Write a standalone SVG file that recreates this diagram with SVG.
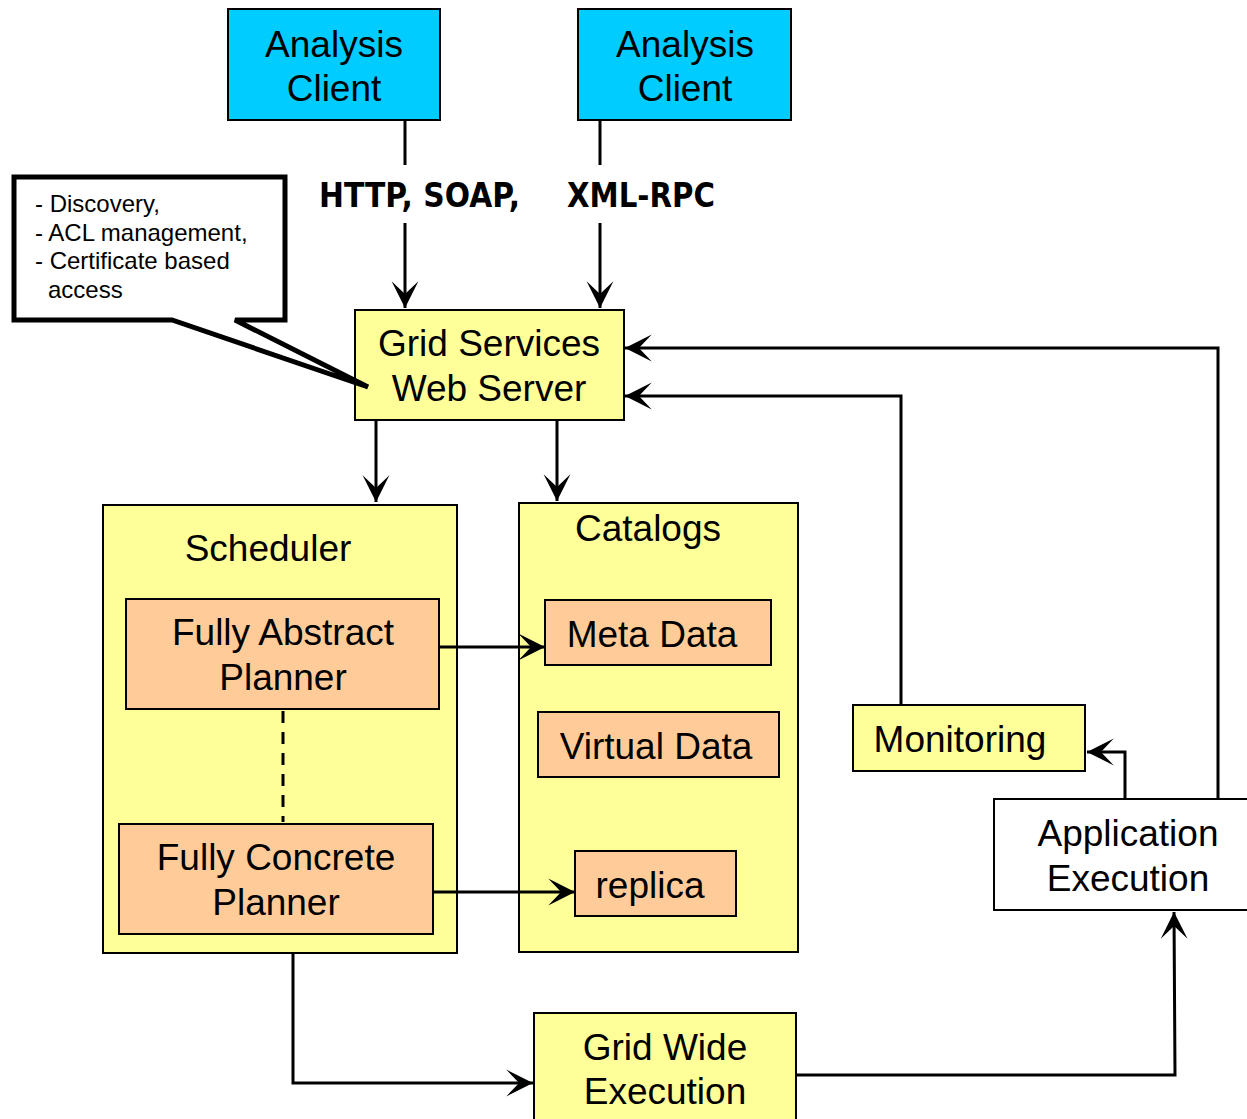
<svg xmlns="http://www.w3.org/2000/svg" width="1247" height="1119" viewBox="0 0 1247 1119">
  <style>
    .box { stroke: #000; stroke-width: 2; }
    .client { fill: #00CCFF; }
    .yellow { fill: #FFFF99; }
    .orange { fill: #FFCC99; }
    .white { fill: #FFFFFF; }
    .lbl { font-family: "Liberation Sans", Arial, sans-serif; font-size: 37px; fill: #000; text-anchor: middle; }
    .note { font-family: "Liberation Sans", Arial, sans-serif; font-size: 24px; fill: #000; }
    .proto { font-family: "DejaVu Sans", Verdana, sans-serif; font-weight: bold; font-size: 33px; fill: #000; }
    .conn { fill: none; stroke: #000; stroke-width: 3; }
  </style>
  <defs>
    <marker id="arrow" markerUnits="userSpaceOnUse" markerWidth="30" markerHeight="30" viewBox="-26 -14 28 28" refX="0" refY="0" orient="auto">
      <path d="M0,0 L-25,-12.5 L-13,0 L-25,12.5 Z" fill="#000"/>
    </marker>
  </defs>

  <rect width="1247" height="1119" fill="#FFFFFF"/>

  <!-- Clients -->
  <g id="client-1">
    <rect class="box client" x="228" y="9" width="212" height="111"/>
    <text class="lbl" x="334" y="57">Analysis</text>
    <text class="lbl" x="334" y="101">Client</text>
  </g>
  <g id="client-2">
    <rect class="box client" x="578" y="9" width="213" height="111"/>
    <text class="lbl" x="685" y="57">Analysis</text>
    <text class="lbl" x="685" y="101">Client</text>
  </g>

  <!-- Protocol labels -->
  <g id="protocols">
    <text class="proto" x="319" y="207" textLength="201" lengthAdjust="spacingAndGlyphs">HTTP, SOAP,</text>
    <text class="proto" x="567" y="207" textLength="148" lengthAdjust="spacingAndGlyphs">XML-RPC</text>
  </g>

  <!-- Web server -->
  <g id="web-server">
    <rect class="box yellow" x="355" y="310" width="269" height="110"/>
    <text class="lbl" x="489" y="356">Grid Services</text>
    <text class="lbl" x="489" y="401">Web Server</text>
  </g>

  <!-- Callout note -->
  <g id="note">
    <path d="M14,177 H285 V320 H235 L368,387 L172,320 H14 Z" fill="#FFFFFF" stroke="#000" stroke-width="5" stroke-linejoin="miter"/>
    <text class="note" x="35" y="212">- Discovery,</text>
    <text class="note" x="35" y="241">- ACL management,</text>
    <text class="note" x="35" y="269">- Certificate based</text>
    <text class="note" x="48" y="298">access</text>
  </g>

  <!-- Scheduler -->
  <g id="scheduler">
    <rect class="box yellow" x="103" y="505" width="354" height="448"/>
    <text class="lbl" x="268" y="561">Scheduler</text>
  </g>
  <g id="abstract-planner">
    <rect class="box orange" x="126" y="599" width="313" height="110"/>
    <text class="lbl" x="283" y="645">Fully Abstract</text>
    <text class="lbl" x="283" y="690">Planner</text>
  </g>
  <g id="concrete-planner">
    <rect class="box orange" x="119" y="824" width="314" height="110"/>
    <text class="lbl" x="276" y="870">Fully Concrete</text>
    <text class="lbl" x="276" y="915">Planner</text>
  </g>

  <!-- Catalogs -->
  <g id="catalogs">
    <rect class="box yellow" x="519" y="503" width="279" height="449"/>
    <text class="lbl" x="648" y="541">Catalogs</text>
  </g>
  <g id="meta-data">
    <rect class="box orange" x="545" y="600" width="226" height="65"/>
    <text class="lbl" x="652" y="647">Meta Data</text>
  </g>
  <g id="virtual-data">
    <rect class="box orange" x="538" y="712" width="241" height="65"/>
    <text class="lbl" x="656" y="759">Virtual Data</text>
  </g>
  <g id="replica">
    <rect class="box orange" x="575" y="851" width="161" height="65"/>
    <text class="lbl" x="650" y="898">replica</text>
  </g>

  <!-- Monitoring and execution -->
  <g id="monitoring">
    <rect class="box yellow" x="853" y="705" width="232" height="66"/>
    <text class="lbl" x="960" y="752">Monitoring</text>
  </g>
  <g id="application-execution">
    <rect class="box white" x="994" y="799" width="270" height="111"/>
    <text class="lbl" x="1128" y="846">Application</text>
    <text class="lbl" x="1128" y="891">Execution</text>
  </g>
  <g id="grid-wide-execution">
    <rect class="box yellow" x="534" y="1013" width="262" height="120"/>
    <text class="lbl" x="665" y="1060">Grid Wide</text>
    <text class="lbl" x="665" y="1104">Execution</text>
  </g>

  <!-- Connectors -->
  <g id="connectors">
    <line class="conn" x1="405" y1="120" x2="405" y2="165"/>
    <line class="conn" x1="405" y1="223" x2="405" y2="308" marker-end="url(#arrow)"/>
    <line class="conn" x1="600" y1="120" x2="600" y2="165"/>
    <line class="conn" x1="600" y1="223" x2="600" y2="308" marker-end="url(#arrow)"/>
    <line class="conn" x1="376" y1="420" x2="376" y2="502" marker-end="url(#arrow)"/>
    <line class="conn" x1="557" y1="420" x2="557" y2="501" marker-end="url(#arrow)"/>
    <line class="conn" x1="439" y1="647" x2="545" y2="647" marker-end="url(#arrow)"/>
    <line class="conn" x1="433" y1="892" x2="575" y2="892" marker-end="url(#arrow)"/>
    <line x1="283" y1="711" x2="283" y2="822" stroke="#000" stroke-width="3" stroke-dasharray="12,9"/>
    <polyline class="conn" points="901,705 901,396 625,396" marker-end="url(#arrow)"/>
    <polyline class="conn" points="1218,799 1218,348 625,348" marker-end="url(#arrow)"/>
    <polyline class="conn" points="1125,799 1125,752 1087,752" marker-end="url(#arrow)"/>
    <polyline class="conn" points="293,953 293,1083 533,1083" marker-end="url(#arrow)"/>
    <polyline class="conn" points="796,1075 1175,1075 1174,912" marker-end="url(#arrow)"/>
  </g>
</svg>
